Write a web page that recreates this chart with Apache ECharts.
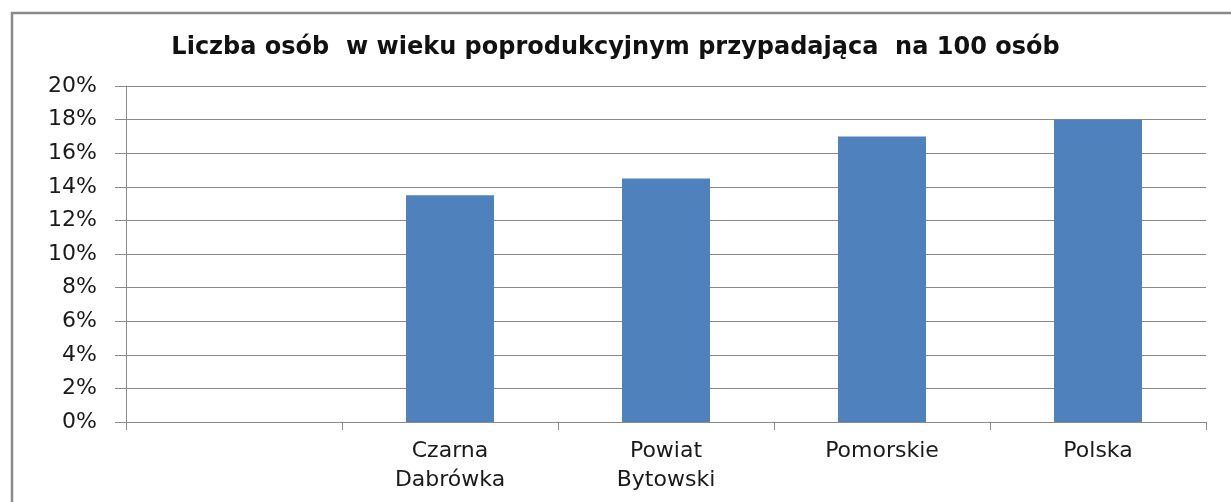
<!DOCTYPE html>
<html>
<head>
<meta charset="utf-8">
<script src="https://cdn.jsdelivr.net/npm/echarts@6/dist/echarts.min.js"></script>
<style>
  html, body { margin: 0; padding: 0; background: #fff; }
  #chart { width: 1231px; height: 502px; }
</style>
</head>
<body>
<div id="chart"></div>
<script>
// dane
var categories = ['', 'Czarna\nDabrówka', 'Powiat\nBytowski', 'Pomorskie', 'Polska'];
var values = [null, 13.5, 14.5, 17, 18];
var yTicks = [0, 2, 4, 6, 8, 10, 12, 14, 16, 18, 20];

var chart = echarts.init(document.getElementById('chart'));

var option = {
  animation: false,
  title: {
    text: 'Liczba osób  w wieku poprodukcyjnym przypadająca  na 100 osób',
    left: 'center',
    top: 31,
    textStyle: {
      fontFamily: 'DejaVu Sans',
      fontWeight: 'bold',
      fontSize: 24,
      color: '#111'
    }
  },
  // ramka wykresu
  graphic: [{
    type: 'rect',
    shape: { x: 12, y: 13, width: 1240, height: 500 },
    style: { fill: 'none', stroke: '#8a8a8a', lineWidth: 2.5 },
    silent: true
  }],
  grid: {
    left: 126,
    right: 25,
    top: 86,
    bottom: 80
  },
  xAxis: {
    type: 'category',
    data: categories,
    axisLine: { lineStyle: { color: '#8a8a8a', width: 1 } },
    axisTick: { show: true, length: 8, alignWithLabel: false, lineStyle: { color: '#8a8a8a' } },
    axisLabel: {
      interval: 0,
      margin: 15,
      fontFamily: 'DejaVu Sans',
      fontSize: 22,
      lineHeight: 29,
      color: '#1a1a1a'
    }
  },
  yAxis: {
    type: 'value',
    min: yTicks[0],
    max: yTicks[yTicks.length - 1],
    interval: 2,
    axisLine: { show: true, lineStyle: { color: '#8a8a8a', width: 1 } },
    axisTick: { show: true, length: 11, lineStyle: { color: '#8a8a8a' } },
    splitLine: { lineStyle: { color: '#8a8a8a', width: 1 } },
    axisLabel: {
      margin: 29,
      formatter: '{value}%',
      fontFamily: 'DejaVu Sans',
      fontSize: 22,
      color: '#1a1a1a'
    }
  },
  series: [{
    type: 'bar',
    data: values,
    barWidth: 88,
    itemStyle: { color: '#4f81bd' }
  }]
};

chart.setOption(option);
</script>
</body>
</html>
